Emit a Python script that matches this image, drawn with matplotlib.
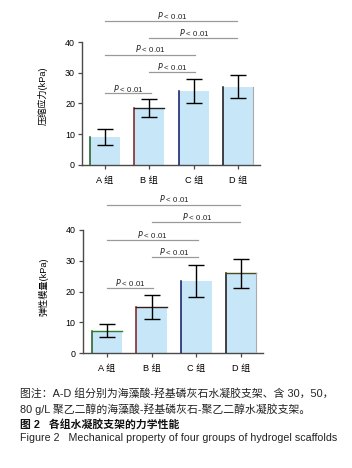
import numpy as np
import matplotlib
matplotlib.use("Agg")
import matplotlib.pyplot as plt

plt.rcParams['font.family'] = ['Liberation Sans', 'Noto Sans CJK SC', 'DejaVu Sans']

groups = ['A 组', 'B 组', 'C 组', 'D 组']

stress_mean = [9.0, 18.4, 24.0, 25.5]
stress_err = [2.5, 2.9, 3.9, 3.8]

modulus_mean = [7.3, 14.9, 23.4, 25.9]
modulus_err = [2.1, 3.9, 5.2, 4.6]

# (i, j, line height, label height)
stress_pairs = [(0, 1, 23.4, 25.0), (1, 2, 30.2, 32.0), (0, 2, 35.8, 37.8),
                (1, 3, 41.3, 43.2), (0, 3, 46.8, 48.7)]
modulus_pairs = [(0, 1, 21.2, 23.0), (1, 2, 31.3, 33.1), (0, 2, 36.8, 38.6),
                 (1, 3, 42.4, 44.2), (0, 3, 48.1, 50.0)]

left_edge_colors = ['#1f5a1f', '#7a1c1c', '#0b1766', '#111111']

fill = '#c7e7f9'


def draw(ax, means, errs, pairs, ylabel, top_edges, label_y):
    x = np.arange(len(means))
    bars = ax.bar(x, means, width=0.68, color=fill, edgecolor='none', zorder=2)
    for b, c, te in zip(bars, left_edge_colors, top_edges):
        ax.plot([b.get_x(), b.get_x()], [0, b.get_height()], color=c, lw=1.1, zorder=3)
        if te:
            ax.plot([b.get_x(), b.get_x() + b.get_width()], [b.get_height()] * 2,
                    color=te, lw=1.0, zorder=3)
    b = bars[-1]
    ax.plot([b.get_x() + b.get_width()] * 2, [0, b.get_height()], color='#aaaaaa', lw=0.8, zorder=3)
    ax.errorbar(x, means, yerr=errs, fmt='none', ecolor='black', elinewidth=1.0,
                capsize=6, capthick=1.0, zorder=4)
    for i, j, ly, ty in pairs:
        ax.plot([i, j - 0.02 if j == 3 else j + 0.03], [ly, ly], color='#9a9a9a', lw=0.9,
                clip_on=False, zorder=1)
        ax.text((i + j) / 2 + 0.02, ty, r'$\it{P}$ < 0.01', ha='center', va='center',
                fontsize=5.7, color='#222222', clip_on=False)
    ax.set_ylim(0, 40)
    ax.set_yticks([0, 10, 20, 30, 40])
    ax.set_xticks(x)
    ax.set_xticklabels(groups, fontsize=6.6)
    for s in ['top', 'right']:
        ax.spines[s].set_visible(False)
    for s in ['left', 'bottom']:
        ax.spines[s].set_color('#4a4a4a')
        ax.spines[s].set_linewidth(1.0)
    ax.tick_params(axis='y', labelsize=6.4, length=3, width=0.9, color='#4a4a4a', pad=2)
    ax.tick_params(axis='x', length=3, width=0.9, color='#4a4a4a', pad=5)
    ax.set_ylabel(ylabel, fontsize=6.6)
    ax.yaxis.set_label_coords(-0.19, label_y)


fig = plt.figure(figsize=(3.52, 4.68), dpi=100)

ax1 = fig.add_axes([0.233, 0.648, 0.506, 0.262])
draw(ax1, stress_mean, stress_err, stress_pairs, '压缩应力(kPa)',
     [None, '#222222', None, None], 0.56)
ax1.set_xlim(-0.52, 3.5)

ax2 = fig.add_axes([0.235, 0.245, 0.512, 0.264])
draw(ax2, modulus_mean, modulus_err, modulus_pairs, '弹性模量(kPa)',
     ['#2e7d32', '#3a1a1a', None, '#4a4a1a'], 0.54)
ax2.set_xlim(-0.54, 3.49)

cap_x = 20 / 352
fig.text(cap_x, 1 - 394 / 468, '图注：A-D 组分别为海藻酸-羟基磷灰石水凝胶支架、含 30，50，',
         fontsize=7.8, va='center', color='#222222')
fig.text(cap_x, 1 - 409 / 468, '80 g/L 聚乙二醇的海藻酸-羟基磷灰石-聚乙二醇水凝胶支架。',
         fontsize=7.8, va='center', color='#222222')
fig.text(cap_x, 1 - 424 / 468, '图 2   各组水凝胶支架的力学性能',
         fontsize=7.8, va='center', fontweight='bold', color='#111111')
fig.text(cap_x, 1 - 438 / 468, 'Figure 2   Mechanical property of four groups of hydrogel scaffolds',
         fontsize=7.7, va='center', color='#222222')

fig.savefig('out.png', dpi=100)
